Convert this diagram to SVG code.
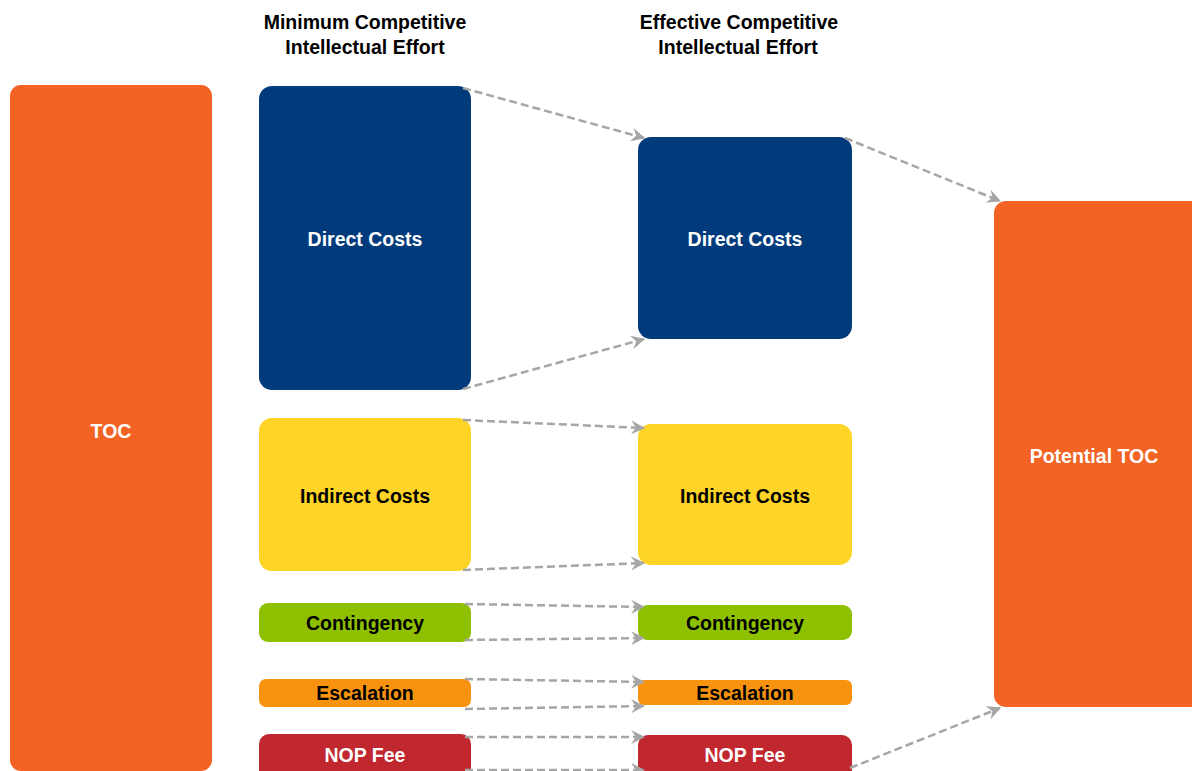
<svg xmlns="http://www.w3.org/2000/svg" width="1192" height="771" viewBox="0 0 1192 771">
<style>
text{font-family:"Liberation Sans",Arial,sans-serif;font-weight:bold;font-size:19.5px;text-anchor:middle}
.w{fill:#fff}.k{fill:#000}
.c{fill:none;stroke:#A6A6A6;stroke-width:2.5;stroke-dasharray:8 4;marker-end:url(#ah)}
</style>
<defs>
<marker id="ah" markerUnits="userSpaceOnUse" markerWidth="14" markerHeight="14" viewBox="0 0 12 12" refX="11" refY="6" orient="auto">
<path d="M0,0 L12,6 L0,12 L4,6 Z" fill="#A6A6A6"/>
</marker>
</defs>
<rect width="1192" height="771" fill="#fff"/>
<g id="headers">
<text class="k" x="365" y="29">Minimum Competitive</text>
<text class="k" x="365" y="54">Intellectual Effort</text>
<text class="k" x="739" y="29">Effective Competitive</text>
<text class="k" x="738" y="54">Intellectual Effort</text>
</g>
<g id="toc"><rect x="10" y="85" width="202" height="686" rx="11" fill="#F26324"/><text class="w" x="111" y="438">TOC</text></g>
<g id="direct-min"><rect x="259" y="86" width="212" height="304" rx="13" fill="#023B7B"/><text class="w" x="365" y="246">Direct Costs</text></g>
<g id="indirect-min"><rect x="259" y="418" width="212" height="153" rx="13" fill="#FED426"/><text class="k" x="365" y="503">Indirect Costs</text></g>
<g id="contingency-min"><rect x="259" y="603" width="212" height="39" rx="9" fill="#8EC000"/><text class="k" x="365" y="630">Contingency</text></g>
<g id="escalation-min"><rect x="259" y="679" width="212" height="28" rx="7" fill="#F8930F"/><text class="k" x="365" y="700">Escalation</text></g>
<g id="nop-min"><rect x="259" y="734" width="212" height="50" rx="10" fill="#C0272F"/><text class="w" x="365" y="762">NOP Fee</text></g>
<g id="direct-eff"><rect x="638" y="137" width="214" height="202" rx="13" fill="#023B7B"/><text class="w" x="745" y="246">Direct Costs</text></g>
<g id="indirect-eff"><rect x="638" y="424" width="214" height="141" rx="13" fill="#FED426"/><text class="k" x="745" y="503">Indirect Costs</text></g>
<g id="contingency-eff"><rect x="638" y="605" width="214" height="35" rx="9" fill="#8EC000"/><text class="k" x="745" y="630">Contingency</text></g>
<g id="escalation-eff"><rect x="638" y="680" width="214" height="25" rx="6" fill="#F8930F"/><text class="k" x="745" y="700">Escalation</text></g>
<g id="nop-eff"><rect x="638" y="735" width="214" height="50" rx="10" fill="#C0272F"/><text class="w" x="745" y="762">NOP Fee</text></g>
<g id="potential-toc"><rect x="994" y="201" width="210" height="506" rx="12" fill="#F26324"/><text class="w" x="1094" y="463">Potential TOC</text></g>
<g id="connectors">
<path class="c" d="M463,88 L644,138"/>
<path class="c" d="M463,389 L644,339"/>
<path class="c" d="M463,420 L644,428"/>
<path class="c" d="M463,570 L644,563"/>
<path class="c" d="M465,604 L644,607"/>
<path class="c" d="M465,640 L644,638"/>
<path class="c" d="M465,679 L644,682"/>
<path class="c" d="M465,709 L644,706"/>
<path class="c" d="M465,737 L644,737"/>
<path class="c" d="M465,770 L644,770"/>
<path class="c" d="M845,138 L1000,201"/>
<path class="c" d="M850,768 L1000,708"/>
</g>
</svg>
